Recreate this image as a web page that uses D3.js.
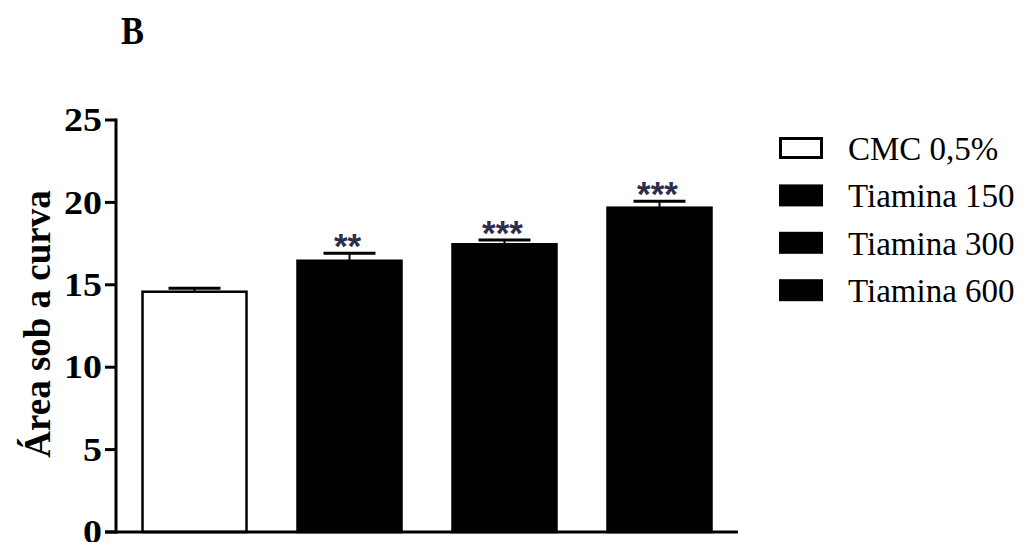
<!DOCTYPE html>
<html>
<head>
<meta charset="utf-8">
<script src="https://cdn.jsdelivr.net/npm/d3@7/dist/d3.min.js"></script>
<style>
  html, body { margin: 0; padding: 0; background: #fff; }
  svg { display: block; }
</style>
</head>
<body>
<svg id="chart" width="1026" height="542"></svg>
<script>
// Area under the curve per group (mean ± SEM)
const groups = ["CMC 0,5%", "Tiamina 150", "Tiamina 300", "Tiamina 600"];
const means  = [14.58, 16.46, 17.46, 19.68];
const sems   = [0.21, 0.45, 0.26, 0.39];
const stars  = ["", "**", "***", "***"];
const fills  = ["#ffffff", "#000000", "#000000", "#000000"];
const yTicks = [0, 5, 10, 15, 20, 25];
const yTitle = "Área sob a curva";
const panelLabel = "B";

const svg = d3.select("#chart");
const serif = "'Liberation Serif', 'Times New Roman', Times, serif";
const sans = "'Liberation Sans', Arial, sans-serif";

const x0 = 116, x1 = 738, yTop = 120, yBot = 532;

const x = d3.scaleBand().domain(groups).range([x0, x1])
  .paddingInner(0.329).paddingOuter(0.171);
const y = d3.scaleLinear().domain([0, 25]).range([yBot, yTop]);

const data = groups.map((g, i) => ({ g, m: means[i], s: sems[i], star: stars[i], fill: fills[i] }));

// panel letter
svg.append("text")
  .attr("transform", "translate(121,44) scale(0.86,1)")
  .attr("font-family", serif).attr("font-weight", "bold")
  .attr("font-size", 40).attr("fill", "#000")
  .text(panelLabel);

// bars
svg.append("g").selectAll("rect").data(data).join("rect")
  .attr("x", d => x(d.g))
  .attr("y", d => y(d.m))
  .attr("width", x.bandwidth())
  .attr("height", d => y(0) - y(d.m))
  .attr("fill", d => d.fill)
  .attr("stroke", "#000")
  .attr("stroke-width", 2.5);

// error bars (upper only)
const eb = svg.append("g").selectAll("g").data(data).join("g");
eb.append("line")
  .attr("x1", d => x(d.g) + x.bandwidth() / 2)
  .attr("x2", d => x(d.g) + x.bandwidth() / 2)
  .attr("y1", d => y(d.m))
  .attr("y2", d => y(d.m + d.s))
  .attr("stroke", "#000").attr("stroke-width", 2);
eb.append("line")
  .attr("x1", d => x(d.g) + x.bandwidth() / 4)
  .attr("x2", d => x(d.g) + x.bandwidth() * 3 / 4)
  .attr("y1", d => y(d.m + d.s))
  .attr("y2", d => y(d.m + d.s))
  .attr("stroke", "#000").attr("stroke-width", 3);

// significance marks
const starSize = 35;
svg.append("g").selectAll("text").data(data.filter(d => d.star)).join("text")
  .attr("x", d => x(d.g) + x.bandwidth() / 2 - 2)
  .attr("y", d => y(d.m + d.s) - 10 + 0.42 * starSize)
  .attr("text-anchor", "middle")
  .attr("font-family", sans)
  .attr("font-weight", "bold")
  .attr("font-size", starSize)
  .attr("fill", "#2e2e4c")
  .text(d => d.star);

// y axis
const yAxis = svg.append("g");
yAxis.append("line")
  .attr("x1", x0).attr("x2", x0)
  .attr("y1", yTop - 1.5).attr("y2", yBot + 1.5)
  .attr("stroke", "#000").attr("stroke-width", 3);
const tk = yAxis.selectAll("g.tick").data(yTicks).join("g").attr("class", "tick");
tk.append("line")
  .attr("x1", x0 - 11).attr("x2", x0)
  .attr("y1", d => y(d)).attr("y2", d => y(d))
  .attr("stroke", "#000").attr("stroke-width", 3);
tk.append("text")
  .attr("transform", d => `translate(${x0 - 14},${y(d)}) scale(1.15,1)`)
  .attr("dy", "0.34em")
  .attr("text-anchor", "end")
  .attr("font-family", serif).attr("font-weight", "bold")
  .attr("font-size", 33).attr("fill", "#000")
  .text(d => d);

// x axis
svg.append("line")
  .attr("x1", x0 - 11).attr("x2", x1)
  .attr("y1", yBot).attr("y2", yBot)
  .attr("stroke", "#000").attr("stroke-width", 3);

// y axis title
svg.append("text")
  .attr("transform", `translate(50,${(yTop + yBot) / 2 - 2}) rotate(-90) scale(1,1.05)`)
  .attr("text-anchor", "middle")
  .attr("font-family", serif).attr("font-weight", "bold")
  .attr("font-size", 37).attr("fill", "#000")
  .text(yTitle);

// legend
const lg = svg.append("g").selectAll("g").data(data).join("g")
  .attr("transform", (d, i) => `translate(779,${137 + i * 47.4})`);
lg.append("rect")
  .attr("x", d => d.fill === "#ffffff" ? 1.5 : 0)
  .attr("y", d => d.fill === "#ffffff" ? 1.5 : 0)
  .attr("width", d => d.fill === "#ffffff" ? 41 : 44)
  .attr("height", d => d.fill === "#ffffff" ? 19 : 22)
  .attr("fill", d => d.fill)
  .attr("stroke", d => d.fill === "#ffffff" ? "#000" : "none")
  .attr("stroke-width", 3);
lg.append("text")
  .attr("x", 69).attr("y", 23)
  .attr("font-family", serif)
  .attr("font-size", 33).attr("fill", "#000")
  .text(d => d.g);
</script>
</body>
</html>
